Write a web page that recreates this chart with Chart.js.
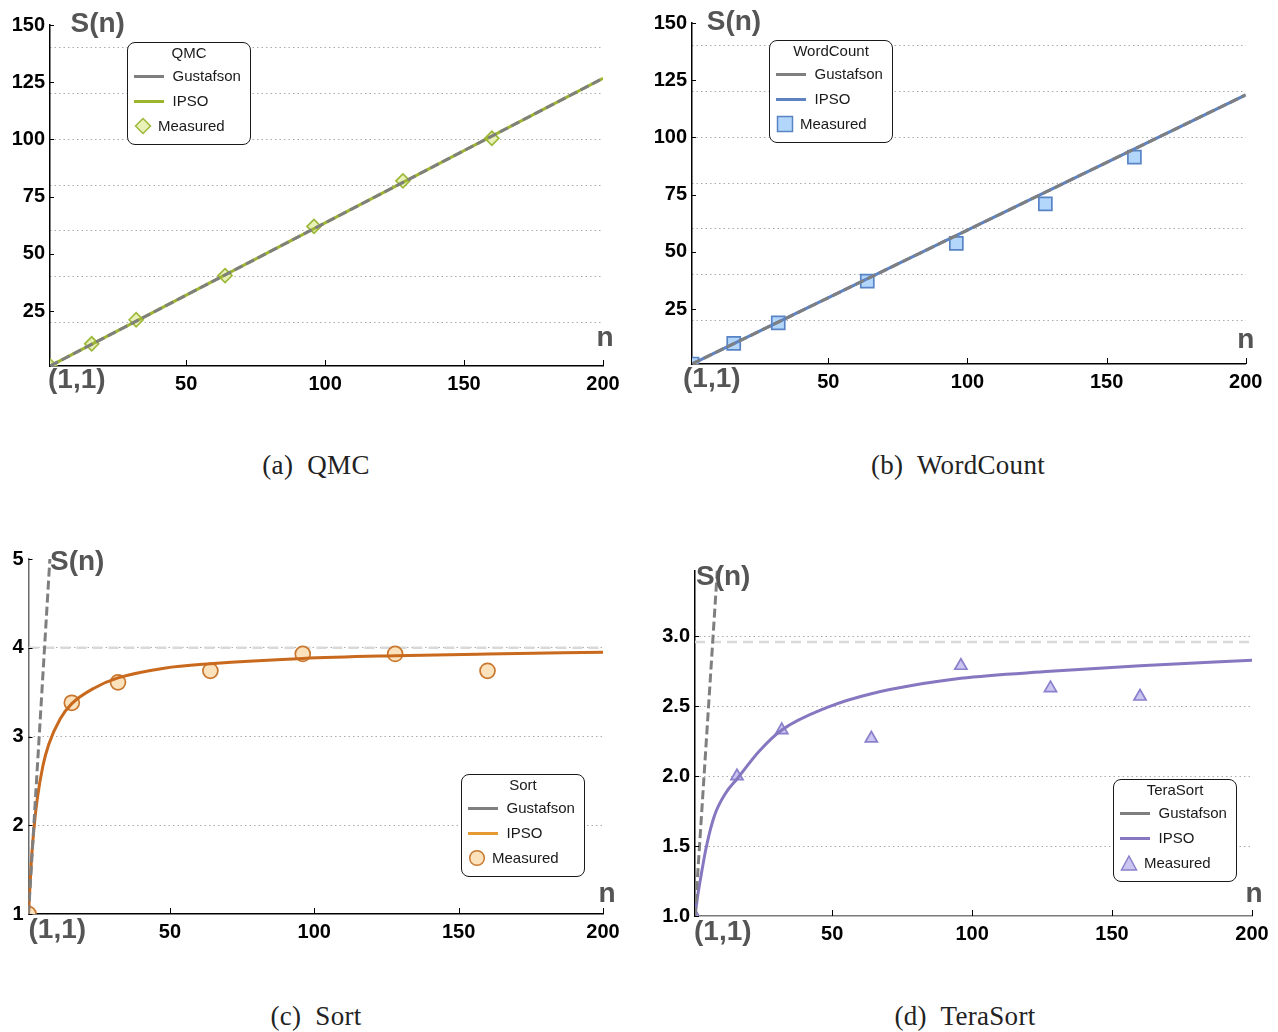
<!DOCTYPE html>
<html>
<head>
<meta charset="utf-8">
<script src="https://cdn.jsdelivr.net/npm/chart.js@4.4.1/dist/chart.umd.min.js"></script>
<style>
body { margin: 0; background: #fff; width: 1278px; height: 1032px; position: relative; overflow: hidden; font-family: "Liberation Sans", Arial, sans-serif; }
canvas { position: absolute; }
.caption { position: absolute; font-family: "Liberation Serif", "Times New Roman", serif; font-size: 27px; white-space: pre; transform: translateX(-50%); color: #222; line-height: 30px; letter-spacing: 0.3px; }
.legend { position: absolute; box-sizing: border-box; width: 124px; height: 103px; border: 1.5px solid #1a1a1a; border-radius: 8px; background: #fff; font-size: 15px; color: #1a1a1a; }
.legend .t { position: absolute; left: 0; width: 100%; text-align: center; top: 1px; line-height: 18px; }
.legend .r { position: absolute; left: 0; width: 100%; height: 20px; line-height: 20px; }
.legend .sw { position: absolute; left: 6px; top: 9px; width: 30px; height: 2.5px; }
.legend .lt { position: absolute; left: 44.5px; top: 0; }
.legend .mk { position: absolute; left: 5.5px; top: 1px; }
.legend .mt { position: absolute; left: 30px; top: 0; }
</style>
</head>
<body>
<script>
// measured runs (same core counts in every panel)
const nMeasured = [1, 16, 32, 64, 96, 128, 160];
const xTicks = [50, 100, 150, 200];

// (a) QMC
const qmcLineN = [1, 200];
const qmcGustafson = [1, 126.7];
const qmcIpso = [1, 126.7];
const qmcMeasured = [1, 10.7, 21.2, 40.5, 62.0, 81.9, 100.5];
const qmcYTicks = [25, 50, 75, 100, 125, 150];
const qmcGrid = [20, 40, 60, 80, 100, 120, 140];

// (b) WordCount
const wcLineN = [1, 200];
const wcGustafson = [1, 118.6];
const wcIpso = [1, 118.6];
const wcMeasured = [1, 10.0, 19.0, 37.2, 53.7, 71.0, 91.4];
const wcYTicks = [25, 50, 75, 100, 125, 150];
const wcGrid = [20, 40, 60, 80, 100, 120, 140];

// (c) Sort
const sortGustafsonN = [1, 10];
const sortGustafson = [1, 5.86];
const sortIpsoN = [1, 2, 3, 4, 6, 8, 12, 16, 24, 32, 48, 64, 96, 128, 160, 200];
const sortIpso = [1, 1.6, 2.0, 2.29, 2.67, 2.91, 3.2, 3.37, 3.55, 3.66, 3.77, 3.82, 3.88, 3.91, 3.93, 3.95];
const sortMeasured = [1, 3.38, 3.61, 3.74, 3.93, 3.93, 3.74];
const sortCeiling = 4.0;
const sortYTicks = [1, 2, 3, 4, 5];
const sortGrid = [2, 3, 4];

// (d) TeraSort
const teraGustafsonN = [1, 10];
const teraGustafson = [1, 3.79];
const teraIpsoN = [1, 2, 3, 5, 8, 12, 16, 24, 32, 48, 64, 96, 128, 160, 200];
const teraIpso = [1, 1.15, 1.27, 1.49, 1.72, 1.88, 1.98, 2.18, 2.33, 2.49, 2.59, 2.70, 2.75, 2.79, 2.83];
const teraMeasured = [1, 2.0, 2.33, 2.27, 2.79, 2.63, 2.57];
const teraCeiling = 2.96;
const teraYTicks = [1.0, 1.5, 2.0, 2.5, 3.0];
const teraGrid = [1.5, 2.0, 2.5, 3.0];

const gustColor = '#7f7f7f';

const panels = [
  { title: 'QMC', caption: '(a)  QMC', capPos: [316, 450],
    box: [0, 0, 640, 410], area: [50, 25, 603, 366], yMin: 1, yMax: 150, digits: 0,
    yTicks: qmcYTicks, grid: qmcGrid, gust: [qmcLineN, qmcGustafson], ipso: [qmcLineN, qmcIpso],
    meas: qmcMeasured, ceiling: null,
    color: '#9bb52f', legendColor: '#9bb52f',
    marker: { style: 'rectRot', r: 7, fill: '#e9f0b8', stroke: '#9cb93a', svg: 'diamond' },
    yBorder: '#000', xBorder: '#000', legendPos: [127, 42],
    sLab: [20.5, 6.5], nLab: [2, -20], oLab: [-2, 22] },
  { title: 'WordCount', caption: '(b)  WordCount', capPos: [958, 450],
    box: [640, 0, 640, 410], area: [52, 23, 605.7, 364], yMin: 1, yMax: 150, digits: 0,
    yTicks: wcYTicks, grid: wcGrid, gust: [wcLineN, wcGustafson], ipso: [wcLineN, wcIpso],
    meas: wcMeasured, ceiling: null,
    color: '#5d83c2', legendColor: '#5d83c2',
    marker: { style: 'rect', r: 9.2, fill: '#b3d6fb', stroke: '#5884c6', svg: 'square' },
    yBorder: '#000', xBorder: '#000', legendPos: [769, 40],
    sLab: [14.7, 7], nLab: [0, -16], oLab: [-9, 22.5] },
  { title: 'Sort', caption: '(c)  Sort', capPos: [316, 1001],
    box: [0, 540, 640, 420], area: [28.5, 19, 603, 374], yMin: 1, yMax: 5, digits: 0,
    yTicks: sortYTicks, grid: sortGrid, gust: [sortGustafsonN, sortGustafson], ipso: [sortIpsoN, sortIpso],
    meas: sortMeasured, ceiling: sortCeiling,
    color: '#c8691d', legendColor: '#e69a33',
    marker: { style: 'circle', r: 7.5, fill: '#fbe2bd', stroke: '#c9772e', svg: 'circle' },
    yBorder: '#6a6a6a', xBorder: '#000', legendPos: [461, 774],
    sLab: [21.5, 11], nLab: [4, -12.5], oLab: [0, 24] },
  { title: 'TeraSort', caption: '(d)  TeraSort', capPos: [965, 1001],
    box: [640, 540, 638, 420], area: [55, 30.7, 612, 376], yMin: 1, yMax: 3.47, digits: 1,
    yTicks: teraYTicks, grid: teraGrid, gust: [teraGustafsonN, teraGustafson], ipso: [teraIpsoN, teraIpso],
    meas: teraMeasured, ceiling: teraCeiling,
    color: '#8677c0', legendColor: '#8677c0',
    marker: { style: 'triangle', r: 7, fill: '#cac5f1', stroke: '#8a80cc', svg: 'triangle' },
    yBorder: '#000', xBorder: '#7a7a7a', legendPos: [1113, 779],
    sLab: [1, 14.3], nLab: [2, -14.5], oLab: [-1, 24] }
];

Chart.defaults.font.family = '"Liberation Sans", Arial, sans-serif';

function pts(xs, ys) {
  return xs.map((x, i) => ({ x: x, y: ys[i] }));
}

// axis names, origin label and the short inner tick marks
const axisText = {
  id: 'axisText',
  afterDraw(chart, args, o) {
    const ctx = chart.ctx, a = chart.chartArea;
    const xs = chart.scales.x, ys = chart.scales.y;
    ctx.save();
    ctx.strokeStyle = '#000';
    ctx.lineWidth = 1;
    xTicks.forEach(v => {
      const px = Math.round(xs.getPixelForValue(v)) + 0.5;
      ctx.beginPath(); ctx.moveTo(px, a.bottom); ctx.lineTo(px, a.bottom - 6); ctx.stroke();
    });
    o.yTicks.forEach(v => {
      const py = Math.round(ys.getPixelForValue(v)) + 0.5;
      ctx.beginPath(); ctx.moveTo(a.left, py); ctx.lineTo(a.left + 4, py); ctx.stroke();
    });
    ctx.fillStyle = '#555';
    ctx.font = 'bold 28px "Liberation Sans", Arial, sans-serif';
    ctx.textBaseline = 'alphabetic';
    ctx.textAlign = 'left';
    ctx.fillText('S(n)', a.left + o.s[0], a.top + o.s[1]);
    ctx.fillText('(1,1)', a.left + o.o[0], a.bottom + o.o[1]);
    ctx.textAlign = 'center';
    ctx.fillText('n', a.right + o.n[0], a.bottom + o.n[1]);
    ctx.restore();
  }
};

function markerSvg(kind, fill, stroke) {
  let shape = '';
  if (kind === 'diamond') shape = '<polygon points="9,1.5 16.5,9 9,16.5 1.5,9"/>';
  if (kind === 'square') shape = '<rect x="1.5" y="1.5" width="15" height="15"/>';
  if (kind === 'circle') shape = '<circle cx="9" cy="9" r="7.3"/>';
  if (kind === 'triangle') shape = '<polygon points="9,2 16.5,16 1.5,16"/>';
  return '<svg width="18" height="18"><g fill="' + fill + '" stroke="' + stroke + '" stroke-width="1.5">' + shape + '</g></svg>';
}

panels.forEach(p => {
  const canvas = document.createElement('canvas');
  canvas.width = p.box[2];
  canvas.height = p.box[3];
  canvas.style.left = p.box[0] + 'px';
  canvas.style.top = p.box[1] + 'px';
  document.body.appendChild(canvas);

  const datasets = [
    { label: 'Gustafson', data: pts(p.gust[0], p.gust[1]), yAxisID: 'y',
      borderColor: gustColor, borderWidth: 3, borderDash: [9, 4], pointRadius: 0, fill: false },
    { label: 'IPSO', data: pts(p.ipso[0], p.ipso[1]), yAxisID: 'y',
      borderColor: p.color, borderWidth: 3, pointRadius: 0, fill: false, cubicInterpolationMode: 'monotone' },
    { label: 'Measured', data: pts(nMeasured, p.meas), yAxisID: 'y', showLine: false,
      pointStyle: p.marker.style, pointRadius: p.marker.r, pointBackgroundColor: p.marker.fill,
      pointBorderColor: p.marker.stroke, pointBorderWidth: 1.7 }
  ];
  if (p.ceiling !== null) {
    datasets.push({ label: 'limit', data: pts([1, 200], [p.ceiling, p.ceiling]), yAxisID: 'y',
      borderColor: '#d9d9d9', borderWidth: 2.5, borderDash: [10, 6], pointRadius: 0, fill: false });
  }

  const tickFont = { size: 20, weight: 'bold' };
  new Chart(canvas, {
    type: 'line',
    data: { datasets: datasets },
    options: {
      responsive: false,
      animation: false,
      events: [],
      layout: { padding: { left: 0, top: p.area[1], right: p.box[2] - p.area[2], bottom: 0 } },
      plugins: {
        legend: { display: false },
        tooltip: { enabled: false },
        axisText: { yTicks: p.yTicks, s: p.sLab, n: p.nLab, o: p.oLab }
      },
      scales: {
        x: {
          type: 'linear', min: 1, max: 200,
          afterBuildTicks: s => { s.ticks = xTicks.map(v => ({ value: v })); },
          afterFit: s => { s.height = p.box[3] - p.area[3]; },
          ticks: { autoSkip: false, maxRotation: 0, padding: 6, color: '#000', font: tickFont },
          grid: { display: false, drawTicks: false },
          border: { display: true, color: p.xBorder, width: 1.5 }
        },
        y: {
          type: 'linear', position: 'left', min: p.yMin, max: p.yMax,
          afterBuildTicks: s => { s.ticks = p.yTicks.map(v => ({ value: v })); },
          afterFit: s => { s.width = p.area[0]; },
          ticks: { autoSkip: false, padding: 5, color: '#000', font: tickFont,
                   callback: v => v.toFixed(p.digits) },
          grid: { display: false, drawTicks: false },
          border: { display: true, color: p.yBorder, width: 1.5 }
        },
        g: {
          type: 'linear', position: 'left', display: true, min: p.yMin, max: p.yMax,
          afterBuildTicks: s => { s.ticks = p.grid.map(v => ({ value: v })); },
          afterFit: s => { s.width = 0; },
          ticks: { display: false },
          grid: { drawTicks: false, color: '#ababab', lineWidth: 1.1 },
          border: { display: false, dash: [1.5, 3] }
        }
      }
    },
    plugins: [axisText]
  });

  // legend box
  const lg = document.createElement('div');
  lg.className = 'legend';
  lg.style.left = p.legendPos[0] + 'px';
  lg.style.top = p.legendPos[1] + 'px';
  lg.innerHTML =
    '<div class="t">' + p.title + '</div>' +
    '<div class="r" style="top:23px"><div class="sw" style="background:' + gustColor + '"></div><div class="lt">Gustafson</div></div>' +
    '<div class="r" style="top:48px"><div class="sw" style="background:' + p.legendColor + '"></div><div class="lt">IPSO</div></div>' +
    '<div class="r" style="top:73px"><div class="mk">' + markerSvg(p.marker.svg, p.marker.fill, p.marker.stroke) + '</div><div class="mt">Measured</div></div>';
  document.body.appendChild(lg);

  const cap = document.createElement('div');
  cap.className = 'caption';
  cap.style.left = p.capPos[0] + 'px';
  cap.style.top = p.capPos[1] + 'px';
  cap.textContent = p.caption;
  document.body.appendChild(cap);
});
</script>
</body>
</html>
